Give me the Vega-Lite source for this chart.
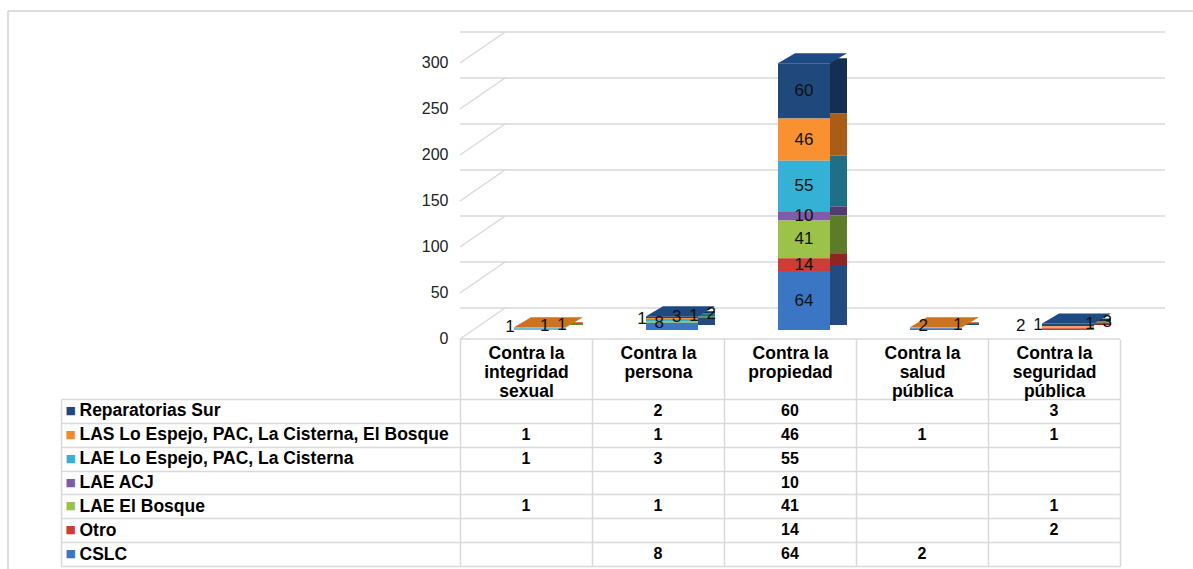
{
  "$schema": "https://vega.github.io/schema/vega-lite/v6.json",
  "padding": {"left": 7, "top": 10, "right": 0, "bottom": 0},
  "background": "white",
  "config": {"view": {"stroke": null}, "font": "Liberation Sans"},
  "datasets": {
    "rows": [
      {"category": "Contra la integridad sexual", "series": "LAS Lo Espejo, PAC, La Cisterna, El Bosque", "value": 1},
      {"category": "Contra la integridad sexual", "series": "LAE Lo Espejo, PAC, La Cisterna", "value": 1},
      {"category": "Contra la integridad sexual", "series": "LAE El Bosque", "value": 1},
      {"category": "Contra la persona", "series": "Reparatorias Sur", "value": 2},
      {"category": "Contra la persona", "series": "LAS Lo Espejo, PAC, La Cisterna, El Bosque", "value": 1},
      {"category": "Contra la persona", "series": "LAE Lo Espejo, PAC, La Cisterna", "value": 3},
      {"category": "Contra la persona", "series": "LAE El Bosque", "value": 1},
      {"category": "Contra la persona", "series": "CSLC", "value": 8},
      {"category": "Contra la propiedad", "series": "Reparatorias Sur", "value": 60},
      {"category": "Contra la propiedad", "series": "LAS Lo Espejo, PAC, La Cisterna, El Bosque", "value": 46},
      {"category": "Contra la propiedad", "series": "LAE Lo Espejo, PAC, La Cisterna", "value": 55},
      {"category": "Contra la propiedad", "series": "LAE ACJ", "value": 10},
      {"category": "Contra la propiedad", "series": "LAE El Bosque", "value": 41},
      {"category": "Contra la propiedad", "series": "Otro", "value": 14},
      {"category": "Contra la propiedad", "series": "CSLC", "value": 64},
      {"category": "Contra la salud pública", "series": "LAS Lo Espejo, PAC, La Cisterna, El Bosque", "value": 1},
      {"category": "Contra la salud pública", "series": "CSLC", "value": 2},
      {"category": "Contra la seguridad pública", "series": "Reparatorias Sur", "value": 3},
      {"category": "Contra la seguridad pública", "series": "LAS Lo Espejo, PAC, La Cisterna, El Bosque", "value": 1},
      {"category": "Contra la seguridad pública", "series": "LAE El Bosque", "value": 1},
      {"category": "Contra la seguridad pública", "series": "Otro", "value": 2}
    ],
    "ticks": [{"v": 0}, {"v": 50}, {"v": 100}, {"v": 150}, {"v": 200}, {"v": 250}, {"v": 300}]
  },
  "bounds": "flush",
  "spacing": 69,
  "vconcat": [
    {
      "width": 660,
      "height": 276,
      "resolve": {"scale": {"color": "independent"}},
      "layer": [
        {
          "data": {"name": "ticks"},
          "mark": {"type": "rule", "color": "#d9d9d9", "strokeWidth": 1.5, "xOffset": 45, "x2Offset": 45, "yOffset": -22},
          "encoding": {
            "y": {"field": "v", "type": "quantitative", "scale": {"domain": [0, 300], "nice": false, "zero": true},
                  "axis": {"orient": "left", "title": null, "values": [0, 50, 100, 150, 200, 250, 300], "ticks": false, "domain": false, "grid": false, "labelOffset": 8, "labelPadding": 12, "labelFontSize": 16, "labelColor": "#222", "labelFlush": false, "labelOverlap": false}}
          }
        },
        {
          "data": {"name": "ticks"},
          "mark": {"type": "rule", "color": "#d9d9d9", "strokeWidth": 1.5, "x2Offset": 45, "yOffset": 9, "y2Offset": -22},
          "encoding": {
            "x": {"value": 0},
            "x2": {"value": 0},
            "y": {"field": "v", "type": "quantitative",
                  "axis": {"orient": "left", "title": null, "values": [0, 50, 100, 150, 200, 250, 300], "ticks": false, "domain": false, "grid": false, "labelOffset": 8, "labelPadding": 12, "labelFontSize": 16, "labelColor": "#222", "labelFlush": false, "labelOverlap": false}},
            "y2": {"field": "v"}
          }
        },
        {
          "data": {"name": "ticks"},
          "transform": [{"filter": "datum.v == 0"}],
          "mark": {"type": "rule", "color": "#d9d9d9", "strokeWidth": 1.5, "yOffset": 9},
          "encoding": {"y": {"field": "v", "type": "quantitative",
                  "axis": {"orient": "left", "title": null, "values": [0, 50, 100, 150, 200, 250, 300], "ticks": false, "domain": false, "grid": false, "labelOffset": 8, "labelPadding": 12, "labelFontSize": 16, "labelColor": "#222", "labelFlush": false, "labelOverlap": false}}}
        },
        {
          "data": {"name": "ticks"},
          "transform": [{"filter": "datum.v == 300"}],
          "mark": {"type": "rule", "color": "#dcdcdc", "strokeWidth": 2, "yOffset": -43, "xOffset": -452, "x2Offset": 733},
          "encoding": {
            "x": {"value": 0},
            "x2": {"value": 0},
            "y": {"field": "v", "type": "quantitative",
                  "axis": {"orient": "left", "title": null, "values": [0, 50, 100, 150, 200, 250, 300], "ticks": false, "domain": false, "grid": false, "labelOffset": 8, "labelPadding": 12, "labelFontSize": 16, "labelColor": "#222", "labelFlush": false, "labelOverlap": false}}}
        },
        {
          "data": {"name": "ticks"},
          "transform": [{"filter": "datum.v == 300"}],
          "mark": {"type": "rule", "color": "#dcdcdc", "strokeWidth": 2, "xOffset": -452, "yOffset": -43, "y2Offset": 239},
          "encoding": {
            "x": {"value": 0},
            "y": {"field": "v", "type": "quantitative",
                  "axis": {"orient": "left", "title": null, "values": [0, 50, 100, 150, 200, 250, 300], "ticks": false, "domain": false, "grid": false, "labelOffset": 8, "labelPadding": 12, "labelFontSize": 16, "labelColor": "#222", "labelFlush": false, "labelOverlap": false}},
            "y2": {"datum": 0}
          }
        },
        {
          "data": {"name": "rows"},
          "transform": [{"calculate": "indexof(['CSLC','Otro','LAE El Bosque','LAE ACJ','LAE Lo Espejo, PAC, La Cisterna','LAS Lo Espejo, PAC, La Cisterna, El Bosque','Reparatorias Sur'], datum.series)", "as": "k"}],
          "mark": {"type": "bar", "width": 17, "xOffset": 48.5, "yOffset": -5, "y2Offset": -5},
          "encoding": {
            "x": {"field": "category", "type": "nominal", "sort": ["Contra la integridad sexual", "Contra la persona", "Contra la propiedad", "Contra la salud pública", "Contra la seguridad pública"], "scale": {"paddingInner": 0.606, "paddingOuter": 0.303}, "axis": null},
            "y": {"field": "value", "type": "quantitative", "stack": "zero",
                  "axis": {"orient": "left", "title": null, "values": [0, 50, 100, 150, 200, 250, 300], "ticks": false, "domain": false, "grid": false, "labelOffset": 8, "labelPadding": 12, "labelFontSize": 16, "labelColor": "#222", "labelFlush": false, "labelOverlap": false}},
            "color": {"field": "series", "type": "nominal", "scale": {"domain": ["CSLC", "Otro", "LAE El Bosque", "LAE ACJ", "LAE Lo Espejo, PAC, La Cisterna", "LAS Lo Espejo, PAC, La Cisterna, El Bosque", "Reparatorias Sur"], "range": ["#244b80", "#8b2622", "#5e7b27", "#523b70", "#1f6f86", "#a95d17", "#142f52"]}, "legend": null},
            "order": {"field": "k", "type": "quantitative"}
          }
        },
        {
          "data": {"name": "rows"},
          "transform": [
            {"calculate": "indexof(['CSLC','Otro','LAE El Bosque','LAE ACJ','LAE Lo Espejo, PAC, La Cisterna','LAS Lo Espejo, PAC, La Cisterna, El Bosque','Reparatorias Sur'], datum.series)", "as": "k"},
            {"stack": "value", "groupby": ["category"], "sort": [{"field": "k", "order": "ascending"}], "as": ["s0", "s1"]},
            {"joinaggregate": [{"op": "max", "field": "s1", "as": "top"}], "groupby": ["category"]},
            {"filter": "datum.s1 == datum.top"}
          ],
          "mark": {"type": "point", "shape": "M -0.765 0 L 0.765 0 L 1.265 -0.294 L -0.265 -0.294 Z", "size": 4624, "filled": true, "opacity": 1, "strokeWidth": 0, "xOffset": 14},
          "encoding": {
            "x": {"field": "category", "type": "nominal", "sort": ["Contra la integridad sexual", "Contra la persona", "Contra la propiedad", "Contra la salud pública", "Contra la seguridad pública"], "axis": null},
            "y": {"field": "s1", "type": "quantitative",
                  "axis": {"orient": "left", "title": null, "values": [0, 50, 100, 150, 200, 250, 300], "ticks": false, "domain": false, "grid": false, "labelOffset": 8, "labelPadding": 12, "labelFontSize": 16, "labelColor": "#222", "labelFlush": false, "labelOverlap": false}},
            "color": {"field": "series", "type": "nominal", "scale": {"domain": ["CSLC", "Otro", "LAE El Bosque", "LAE ACJ", "LAE Lo Espejo, PAC, La Cisterna", "LAS Lo Espejo, PAC, La Cisterna, El Bosque", "Reparatorias Sur"], "range": ["#4b88d4", "#d95450", "#aacb5c", "#8d6cb8", "#45bfe2", "#cc7322", "#1d4a82"]}, "legend": null}
          }
        },
        {
          "data": {"name": "rows"},
          "transform": [{"calculate": "indexof(['CSLC','Otro','LAE El Bosque','LAE ACJ','LAE Lo Espejo, PAC, La Cisterna','LAS Lo Espejo, PAC, La Cisterna, El Bosque','Reparatorias Sur'], datum.series)", "as": "k"}],
          "mark": {"type": "bar", "width": 52, "xOffset": 14},
          "encoding": {
            "x": {"field": "category", "type": "nominal", "sort": ["Contra la integridad sexual", "Contra la persona", "Contra la propiedad", "Contra la salud pública", "Contra la seguridad pública"], "axis": null},
            "y": {"field": "value", "type": "quantitative", "stack": "zero",
                  "axis": {"orient": "left", "title": null, "values": [0, 50, 100, 150, 200, 250, 300], "ticks": false, "domain": false, "grid": false, "labelOffset": 8, "labelPadding": 12, "labelFontSize": 16, "labelColor": "#222", "labelFlush": false, "labelOverlap": false}},
            "color": {"field": "series", "type": "nominal", "scale": {"domain": ["CSLC", "Otro", "LAE El Bosque", "LAE ACJ", "LAE Lo Espejo, PAC, La Cisterna", "LAS Lo Espejo, PAC, La Cisterna, El Bosque", "Reparatorias Sur"], "range": ["#3a76c3", "#cf3b35", "#9cc24a", "#7e5ca8", "#34b1d4", "#f99131", "#1f497d"]}, "legend": null},
            "order": {"field": "k", "type": "quantitative"}
          }
        },
        {
          "data": {"name": "rows"},
          "transform": [
            {"calculate": "indexof(['CSLC','Otro','LAE El Bosque','LAE ACJ','LAE Lo Espejo, PAC, La Cisterna','LAS Lo Espejo, PAC, La Cisterna, El Bosque','Reparatorias Sur'], datum.series)", "as": "k"},
            {"stack": "value", "groupby": ["category"], "sort": [{"field": "k", "order": "ascending"}], "as": ["s0", "s1"]},
            {"calculate": "(datum.s0 + datum.s1) / 2", "as": "mid"},
            {"filter": "datum.value >= 10"}
          ],
          "mark": {"type": "text", "fontSize": 17, "color": "#111", "dx": 14, "baseline": "middle"},
          "encoding": {
            "x": {"field": "category", "type": "nominal", "sort": ["Contra la integridad sexual", "Contra la persona", "Contra la propiedad", "Contra la salud pública", "Contra la seguridad pública"], "axis": null},
            "y": {"field": "mid", "type": "quantitative",
                  "axis": {"orient": "left", "title": null, "values": [0, 50, 100, 150, 200, 250, 300], "ticks": false, "domain": false, "grid": false, "labelOffset": 8, "labelPadding": 12, "labelFontSize": 16, "labelColor": "#222", "labelFlush": false, "labelOverlap": false}},
            "text": {"field": "value", "type": "quantitative"}
          }
        },
        {
          "data": {"name": "rows"},
          "transform": [
            {"calculate": "indexof(['CSLC','Otro','LAE El Bosque','LAE ACJ','LAE Lo Espejo, PAC, La Cisterna','LAS Lo Espejo, PAC, La Cisterna, El Bosque','Reparatorias Sur'], datum.series)", "as": "k"},
            {"stack": "value", "groupby": ["category"], "sort": [{"field": "k", "order": "ascending"}], "as": ["s0", "s1"]},
            {"calculate": "(datum.s0 + datum.s1) / 2", "as": "mid"},
            {"filter": "datum.value < 10"}
          ],
          "mark": {"type": "text", "fontSize": 17, "color": "#111", "dx": 14, "dy": -3, "baseline": "middle"},
          "encoding": {
            "x": {"field": "category", "type": "nominal", "sort": ["Contra la integridad sexual", "Contra la persona", "Contra la propiedad", "Contra la salud pública", "Contra la seguridad pública"], "axis": null},
            "xOffset": {"field": "series", "type": "nominal", "sort": ["Otro", "LAE El Bosque", "CSLC", "LAE Lo Espejo, PAC, La Cisterna", "LAS Lo Espejo, PAC, La Cisterna, El Bosque", "Reparatorias Sur"], "scale": {"range": [-30, 74]}},
            "y": {"field": "mid", "type": "quantitative",
                  "axis": {"orient": "left", "title": null, "values": [0, 50, 100, 150, 200, 250, 300], "ticks": false, "domain": false, "grid": false, "labelOffset": 8, "labelPadding": 12, "labelFontSize": 16, "labelColor": "#222", "labelFlush": false, "labelOverlap": false}},
            "text": {"field": "value", "type": "quantitative"}
          }
        }
      ]
    },
    {
      "width": 660,
      "height": 167,
      "data": {"name": "rows"},
      "resolve": {"axis": {"y": "independent"}},
      "layer": [
        {
          "mark": {"type": "text", "fontSize": 16, "fontWeight": "bold", "color": "#000", "baseline": "middle"},
          "encoding": {
            "x": {"field": "category", "type": "nominal", "sort": ["Contra la integridad sexual", "Contra la persona", "Contra la propiedad", "Contra la salud pública", "Contra la seguridad pública"], "scale": {"paddingInner": 0, "paddingOuter": 0},
                  "axis": {"orient": "top", "title": null, "domain": false, "ticks": true, "tickSize": 60, "tickColor": "#d9d9d9", "tickWidth": 1.5, "tickBand": "extent", "grid": true, "gridColor": "#d9d9d9", "gridWidth": 1.5, "labelAngle": 0, "labelBaseline": "top", "labelPadding": -5, "labelLineHeight": 19, "labelFontSize": 17.5, "labelFontWeight": "bold", "labelColor": "#000", "labelLimit": 0, "labelOverlap": false,
                           "labelExpr": "indexof(datum.label + '', 'Contra') != 0 ? '' : length(split(datum.label, ' ')) > 3 ? [split(datum.label, ' ')[0] + ' ' + split(datum.label, ' ')[1], split(datum.label, ' ')[2], split(datum.label, ' ')[3]] : [split(datum.label, ' ')[0] + ' ' + split(datum.label, ' ')[1], split(datum.label, ' ')[2]]"}},
            "y": {"field": "series", "type": "nominal", "sort": ["Reparatorias Sur", "LAS Lo Espejo, PAC, La Cisterna, El Bosque", "LAE Lo Espejo, PAC, La Cisterna", "LAE ACJ", "LAE El Bosque", "Otro", "CSLC"], "scale": {"paddingInner": 0, "paddingOuter": 0},
                  "axis": {"orient": "left", "title": null, "domain": false, "ticks": true, "tickSize": 399, "tickColor": "#d9d9d9", "tickWidth": 1.5, "tickBand": "extent", "grid": true, "gridColor": "#d9d9d9", "gridWidth": 1.5, "labelAlign": "left", "labelBaseline": "middle", "labelPadding": -18, "labelFontSize": 17.5, "labelFontWeight": "bold", "labelColor": "#000", "labelLimit": 0, "labelOverlap": false,
                           "labelExpr": "(datum.value == 'Reparatorias Sur' ? '\u00a0' : '') + datum.label"}},
            "text": {"field": "value", "type": "quantitative"}
          }
        },
        {
          "mark": {"type": "text", "opacity": 0},
          "encoding": {
            "y": {"field": "series", "type": "nominal", "sort": ["Reparatorias Sur", "LAS Lo Espejo, PAC, La Cisterna, El Bosque", "LAE Lo Espejo, PAC, La Cisterna", "LAE ACJ", "LAE El Bosque", "Otro", "CSLC"],
                  "axis": {"orient": "left", "title": null, "offset": 399, "domain": true, "domainColor": "#d9d9d9", "domainWidth": 1.5, "ticks": false, "grid": false, "labelExpr": "'■'", "labelAlign": "left", "labelBaseline": "middle", "labelPadding": -4, "labelFont": "DejaVu Sans", "labelFontSize": 11, "labelOverlap": false,
                           "labelColor": {"condition": [
                             {"test": "datum.value === 'Reparatorias Sur'", "value": "#1f497d"},
                             {"test": "datum.value === 'LAS Lo Espejo, PAC, La Cisterna, El Bosque'", "value": "#f08a2a"},
                             {"test": "datum.value === 'LAE Lo Espejo, PAC, La Cisterna'", "value": "#34b1d4"},
                             {"test": "datum.value === 'LAE ACJ'", "value": "#7e5ca8"},
                             {"test": "datum.value === 'LAE El Bosque'", "value": "#9cc24a"},
                             {"test": "datum.value === 'Otro'", "value": "#cf3b35"}
                           ], "value": "#3a76c3"}}},
            "text": {"field": "value", "type": "quantitative"}
          }
        }
      ]
    }
  ]
}
